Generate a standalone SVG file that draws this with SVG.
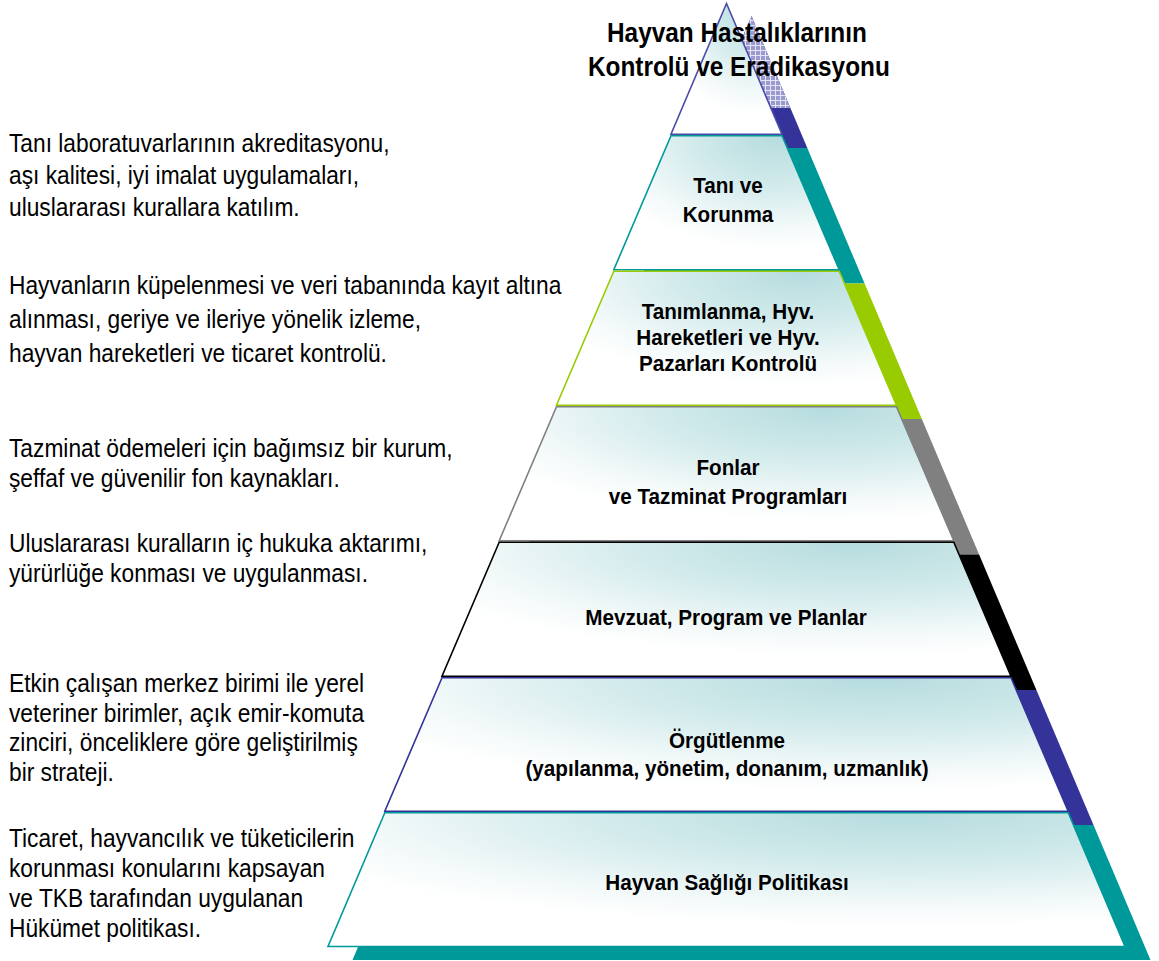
<svg xmlns="http://www.w3.org/2000/svg" width="1159" height="961" viewBox="0 0 1159 961">
<style>
.face{stroke-width:1.6;stroke-linejoin:miter}
.lbl{font-family:"Liberation Sans",Arial,sans-serif;font-weight:bold;font-size:22px;fill:#000;text-anchor:middle}
.title{font-family:"Liberation Sans",Arial,sans-serif;font-weight:bold;font-size:28px;fill:#000}
.note{font-family:"Liberation Sans",Arial,sans-serif;font-size:25px;fill:#000}
</style>
<defs>
<radialGradient id="fillG" cx="0.72" cy="0" r="0.85" fx="0.72" fy="0">
<stop offset="0" stop-color="#B6DCDE"/>
<stop offset="0.45" stop-color="#D3EBEC"/>
<stop offset="0.8" stop-color="#F3F9F9"/>
<stop offset="1" stop-color="#FFFFFF"/>
</radialGradient>
<pattern id="chk" width="5" height="5" patternUnits="userSpaceOnUse">
<rect width="5" height="5" fill="#9A9ACF"/>
<path d="M0 0.5H5M0.5 0V5" stroke="#E4E4F4" stroke-width="1"/>
</pattern>
</defs>
<rect width="1159" height="961" fill="#FFFFFF"/>

<g id="shadows">
<polygon points="751.5,16 807.3,148 695.7,148" fill="#333399"/>
<polygon points="751.5,16 790.4,108 712.6,108" fill="url(#chk)"/>
<polygon points="695.7,148 807.3,148 864.6,283.5 638.4,283.5" fill="#009999"/>
<polygon points="638.4,283.5 864.6,283.5 921.85,419 581.15,419" fill="#99CC00"/>
<polygon points="581.15,419 921.85,419 979.1,554.5 523.9,554.5" fill="#808080"/>
<polygon points="523.9,554.5 979.1,554.5 1036.4,690 466.6,690" fill="#000000"/>
<polygon points="466.6,690 1036.4,690 1093.5,825 409.5,825" fill="#333399"/>
<polygon points="409.5,825 1093.5,825 1150.5,960 352.5,960" fill="#009999"/>
</g>

<g id="layer-top">
<polygon class="face" points="726.5,3.5 782,134.2 671,134.2" fill="url(#fillG)" stroke="#4B4BA8"/>
</g>
<g id="layer-tani">
<polygon class="face" points="671,135.8 782,135.8 839.2,269.7 613.8,269.7" fill="url(#fillG)" stroke="#009999"/>
<text class="lbl" transform="translate(728 0) scale(0.94 1)"><tspan x="0" y="193">Tanı ve</tspan><tspan x="0" y="222">Korunma</tspan></text>
</g>
<g id="layer-tanimlanma">
<polygon class="face" points="613.8,271.3 839.2,271.3 896.5,405.2 556.5,405.2" fill="url(#fillG)" stroke="#99CC00"/>
<text class="lbl" transform="translate(728 0) scale(0.94 1)"><tspan x="0" y="319">Tanımlanma, Hyv.</tspan><tspan x="0" y="345">Hareketleri ve Hyv.</tspan><tspan x="0" y="371">Pazarları Kontrolü</tspan></text>
</g>
<g id="layer-fonlar">
<polygon class="face" points="556.5,406.8 896.5,406.8 953.8,540.7 499.2,540.7" fill="url(#fillG)" stroke="#808080"/>
<text class="lbl" transform="translate(728 0) scale(0.94 1)"><tspan x="0" y="475">Fonlar</tspan><tspan x="0" y="504">ve Tazminat Programları</tspan></text>
</g>
<g id="layer-mevzuat">
<polygon class="face" points="499.2,542.3 953.8,542.3 1011,676.2 442,676.2" fill="url(#fillG)" stroke="#000000"/>
<text class="lbl" transform="translate(726 0) scale(0.94 1)"><tspan x="0" y="625">Mevzuat, Program ve Planlar</tspan></text>
</g>
<g id="layer-orgutlenme">
<polygon class="face" points="442,677.8 1011,677.8 1068.2,811.2 384.8,811.2" fill="url(#fillG)" stroke="#333399"/>
<text class="lbl" transform="translate(727 0) scale(0.94 1)"><tspan x="0" y="748">Örgütlenme</tspan><tspan x="0" y="776">(yapılanma, yönetim, donanım, uzmanlık)</tspan></text>
</g>
<g id="layer-politika">
<polygon class="face" points="384.8,812.8 1068.2,812.8 1125,946.5 328,946.5" fill="url(#fillG)" stroke="#009999"/>
<text class="lbl" transform="translate(727 0) scale(0.94 1)"><tspan x="0" y="890">Hayvan Sağlığı Politikası</tspan></text>
</g>

<g id="title">
<text class="title" transform="translate(607 0) scale(0.87 1)" x="0" y="42">Hayvan Hastalıklarının</text>
<text class="title" transform="translate(588 0) scale(0.87 1)" x="0" y="76">Kontrolü ve Eradikasyonu</text>
</g>

<g id="notes" transform="translate(9 0) scale(0.91 1)">
<g id="note-tani">
<text class="note" x="0" y="152">Tanı laboratuvarlarının akreditasyonu,</text>
<text class="note" x="0" y="184">aşı kalitesi, iyi imalat uygulamaları,</text>
<text class="note" x="0" y="216">uluslararası kurallara katılım.</text>
</g>
<g id="note-tanimlanma">
<text class="note" x="0" y="294">Hayvanların küpelenmesi ve veri tabanında kayıt altına</text>
<text class="note" x="0" y="328">alınması, geriye ve ileriye yönelik izleme,</text>
<text class="note" x="0" y="362">hayvan hareketleri ve ticaret kontrolü.</text>
</g>
<g id="note-fonlar">
<text class="note" x="0" y="457">Tazminat ödemeleri için bağımsız bir kurum,</text>
<text class="note" x="0" y="487">şeffaf ve güvenilir fon kaynakları.</text>
</g>
<g id="note-mevzuat">
<text class="note" x="0" y="552">Uluslararası kuralların iç hukuka aktarımı,</text>
<text class="note" x="0" y="582">yürürlüğe konması ve uygulanması.</text>
</g>
<g id="note-orgutlenme">
<text class="note" x="0" y="692">Etkin çalışan merkez birimi ile yerel</text>
<text class="note" x="0" y="722">veteriner birimler, açık emir-komuta</text>
<text class="note" x="0" y="751">zinciri, önceliklere göre geliştirilmiş</text>
<text class="note" x="0" y="781">bir strateji.</text>
</g>
<g id="note-politika">
<text class="note" x="0" y="847">Ticaret, hayvancılık ve tüketicilerin</text>
<text class="note" x="0" y="877">korunması konularını kapsayan</text>
<text class="note" x="0" y="907">ve TKB tarafından uygulanan</text>
<text class="note" x="0" y="937">Hükümet politikası.</text>
</g>
</g>
</svg>
